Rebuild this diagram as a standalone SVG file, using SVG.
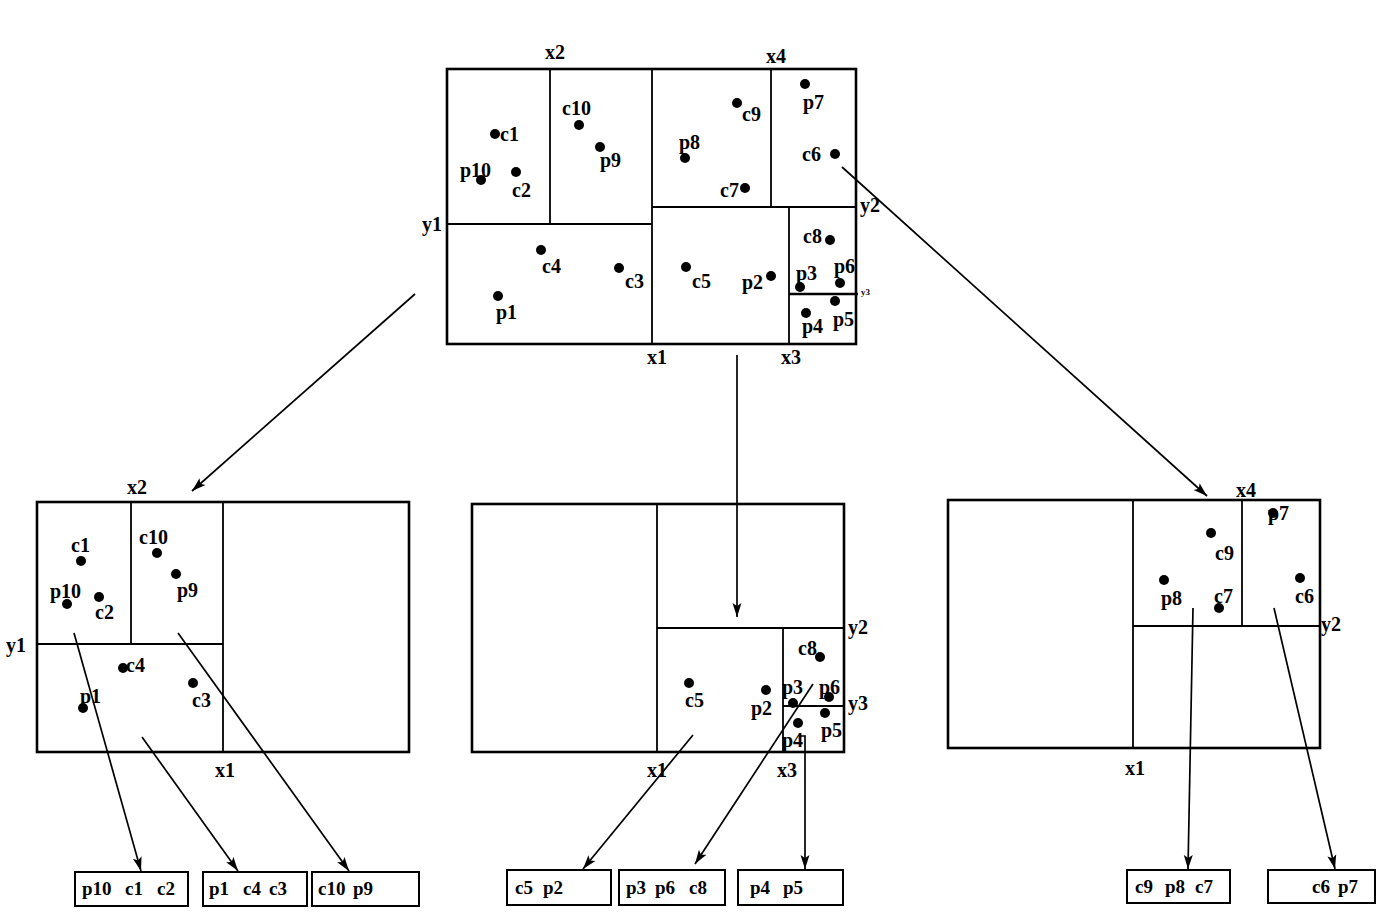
<svg xmlns="http://www.w3.org/2000/svg" width="1400" height="918" viewBox="0 0 1400 918">
<style>
  .frame{fill:none;stroke:#000;stroke-width:2.6}
  .div{fill:none;stroke:#000;stroke-width:1.8}
  .box{fill:#fff;stroke:#000;stroke-width:2}
  .conn{fill:none;stroke:#000;stroke-width:1.7}
  text{font-family:"Liberation Serif","Times New Roman",serif;font-weight:bold;font-size:20px;fill:#000}
  .bk{font-size:19px}
  .ax{text-anchor:middle}
  .tiny{font-size:9px}
  .dot{fill:#000}
</style>
<defs>
  <marker id="ah" markerUnits="userSpaceOnUse" markerWidth="16" markerHeight="12" refX="14" refY="6" orient="auto">
    <path d="M0,1.5 L14,6 L0,10.5 L3,6 Z" fill="#000"/>
  </marker>
</defs>
<rect width="1400" height="918" fill="#fff"/>

<g id="top-space">
  <rect class="frame" x="447" y="69" width="409" height="275"/>
  <line class="div" x1="550" y1="69" x2="550" y2="224"/>
  <line class="div" x1="447" y1="224" x2="652" y2="224"/>
  <line class="div" x1="652" y1="69" x2="652" y2="344"/>
  <line class="div" x1="652" y1="207" x2="856" y2="207"/>
  <line class="div" x1="771" y1="69" x2="771" y2="207"/>
  <line class="div" x1="789" y1="207" x2="789" y2="344"/>
  <line class="frame" x1="789" y1="294" x2="858" y2="294"/>
  <text class="ax" x="555" y="59">x2</text>
  <text class="ax" x="776" y="63">x4</text>
  <text class="ax" x="432" y="231">y1</text>
  <text class="ax" x="870" y="212">y2</text>
  <text class="ax" x="657" y="364">x1</text>
  <text class="ax" x="791" y="364">x3</text>
  <text class="tiny" x="861" y="295">y3</text>
  <circle class="dot" cx="495" cy="134" r="5"/><text x="500" y="141">c1</text>
  <circle class="dot" cx="481" cy="180" r="5"/><text x="460" y="177">p10</text>
  <circle class="dot" cx="516" cy="172" r="5"/><text x="512" y="197">c2</text>
  <circle class="dot" cx="579" cy="125" r="5"/><text x="562" y="115">c10</text>
  <circle class="dot" cx="600" cy="147" r="5"/><text x="600" y="167">p9</text>
  <circle class="dot" cx="685" cy="158" r="5"/><text x="679" y="149">p8</text>
  <circle class="dot" cx="737" cy="103" r="5"/><text x="742" y="121">c9</text>
  <circle class="dot" cx="745" cy="188" r="5"/><text x="720" y="197">c7</text>
  <circle class="dot" cx="805" cy="84" r="5"/><text x="803" y="109">p7</text>
  <circle class="dot" cx="835" cy="154" r="5"/><text x="802" y="161">c6</text>
  <circle class="dot" cx="541" cy="250" r="5"/><text x="542" y="273">c4</text>
  <circle class="dot" cx="619" cy="268" r="5"/><text x="625" y="288">c3</text>
  <circle class="dot" cx="498" cy="296" r="5"/><text x="496" y="319">p1</text>
  <circle class="dot" cx="686" cy="267" r="5"/><text x="692" y="288">c5</text>
  <circle class="dot" cx="771" cy="276" r="5"/><text x="742" y="289">p2</text>
  <circle class="dot" cx="830" cy="240" r="5"/><text x="803" y="243">c8</text>
  <circle class="dot" cx="800" cy="287" r="5"/><text x="796" y="280">p3</text>
  <circle class="dot" cx="840" cy="283" r="5"/><text x="834" y="273">p6</text>
  <circle class="dot" cx="806" cy="313" r="5"/><text x="802" y="333">p4</text>
  <circle class="dot" cx="835" cy="301" r="5"/><text x="833" y="326">p5</text>
</g>

<g id="left-space">
  <rect class="frame" x="37" y="502" width="372" height="250"/>
  <line class="div" x1="131" y1="502" x2="131" y2="644"/>
  <line class="div" x1="37" y1="644" x2="223" y2="644"/>
  <line class="div" x1="223" y1="502" x2="223" y2="752"/>
  <text class="ax" x="137" y="494">x2</text>
  <text class="ax" x="16" y="652">y1</text>
  <text class="ax" x="225" y="777">x1</text>
  <circle class="dot" cx="81" cy="561" r="5"/><text x="71" y="552">c1</text>
  <circle class="dot" cx="67" cy="604" r="5"/><text x="50" y="598">p10</text>
  <circle class="dot" cx="99" cy="597" r="5"/><text x="95" y="619">c2</text>
  <circle class="dot" cx="157" cy="553" r="5"/><text x="139" y="544">c10</text>
  <circle class="dot" cx="176" cy="574" r="5"/><text x="177" y="597">p9</text>
  <circle class="dot" cx="123" cy="668" r="5"/><text x="126" y="672">c4</text>
  <circle class="dot" cx="193" cy="683" r="5"/><text x="192" y="707">c3</text>
  <circle class="dot" cx="83" cy="708" r="5"/><text x="80" y="703">p1</text>
</g>

<g id="middle-space">
  <rect class="frame" x="472" y="504" width="372" height="248"/>
  <line class="div" x1="657" y1="504" x2="657" y2="752"/>
  <line class="div" x1="657" y1="628" x2="844" y2="628"/>
  <line class="div" x1="783" y1="628" x2="783" y2="752"/>
  <line class="div" x1="783" y1="706" x2="844" y2="706"/>
  <text class="ax" x="858" y="634">y2</text>
  <text class="ax" x="858" y="710">y3</text>
  <text class="ax" x="657" y="777">x1</text>
  <text class="ax" x="787" y="777">x3</text>
  <circle class="dot" cx="689" cy="683" r="5"/><text x="685" y="707">c5</text>
  <circle class="dot" cx="766" cy="690" r="5"/><text x="751" y="715">p2</text>
  <circle class="dot" cx="820" cy="657" r="5"/><text x="798" y="655">c8</text>
  <circle class="dot" cx="793" cy="703" r="5"/><text x="782" y="694">p3</text>
  <circle class="dot" cx="829" cy="697" r="5"/><text x="819" y="694">p6</text>
  <circle class="dot" cx="825" cy="713" r="5"/><text x="821" y="737">p5</text>
  <circle class="dot" cx="798" cy="723" r="5"/><text x="782" y="747">p4</text>
</g>

<g id="right-space">
  <rect class="frame" x="948" y="500" width="372" height="248"/>
  <line class="div" x1="1133" y1="500" x2="1133" y2="748"/>
  <line class="div" x1="1133" y1="626" x2="1320" y2="626"/>
  <line class="div" x1="1242" y1="500" x2="1242" y2="626"/>
  <text class="ax" x="1246" y="497">x4</text>
  <text class="ax" x="1331" y="631">y2</text>
  <text class="ax" x="1135" y="775">x1</text>
  <circle class="dot" cx="1211" cy="533" r="5"/><text x="1215" y="560">c9</text>
  <circle class="dot" cx="1164" cy="580" r="5"/><text x="1161" y="605">p8</text>
  <circle class="dot" cx="1219" cy="608" r="5"/><text x="1214" y="603">c7</text>
  <circle class="dot" cx="1273" cy="513" r="5"/><text x="1268" y="520">p7</text>
  <circle class="dot" cx="1300" cy="578" r="5"/><text x="1295" y="603">c6</text>
</g>

<g id="bucket-1"><rect class="box" x="75" y="872" width="113" height="34"/><text class="bk" y="895"><tspan x="82">p10</tspan><tspan x="125">c1</tspan><tspan x="157">c2</tspan></text></g>
<g id="bucket-2"><rect class="box" x="203" y="872" width="104" height="34"/><text class="bk" y="895"><tspan x="209">p1</tspan><tspan x="243">c4</tspan><tspan x="269">c3</tspan></text></g>
<g id="bucket-3"><rect class="box" x="312" y="872" width="107" height="34"/><text class="bk" y="895"><tspan x="318">c10</tspan><tspan x="353">p9</tspan></text></g>
<g id="bucket-4"><rect class="box" x="507" y="870" width="104" height="35"/><text class="bk" y="894"><tspan x="515">c5</tspan><tspan x="543">p2</tspan></text></g>
<g id="bucket-5"><rect class="box" x="619" y="870" width="106" height="35"/><text class="bk" y="894"><tspan x="626">p3</tspan><tspan x="655">p6</tspan><tspan x="689">c8</tspan></text></g>
<g id="bucket-6"><rect class="box" x="738" y="870" width="105" height="35"/><text class="bk" y="894"><tspan x="750">p4</tspan><tspan x="783">p5</tspan></text></g>
<g id="bucket-7"><rect class="box" x="1127" y="870" width="103" height="33"/><text class="bk" y="893"><tspan x="1135">c9</tspan><tspan x="1165">p8</tspan><tspan x="1195">c7</tspan></text></g>
<g id="bucket-8"><rect class="box" x="1268" y="870" width="107" height="33"/><text class="bk" y="893"><tspan x="1312">c6</tspan><tspan x="1338">p7</tspan></text></g>

<g id="connectors">
  <line class="conn" x1="415" y1="294" x2="192" y2="491" marker-end="url(#ah)"/>
  <line class="conn" x1="737" y1="355" x2="737" y2="617" marker-end="url(#ah)"/>
  <line class="conn" x1="842" y1="167" x2="1207" y2="496" marker-end="url(#ah)"/>
  <line class="conn" x1="74" y1="633" x2="141" y2="871" marker-end="url(#ah)"/>
  <line class="conn" x1="142" y1="737" x2="238" y2="871" marker-end="url(#ah)"/>
  <line class="conn" x1="178" y1="633" x2="349" y2="871" marker-end="url(#ah)"/>
  <line class="conn" x1="693" y1="735" x2="583" y2="869" marker-end="url(#ah)"/>
  <line class="conn" x1="813" y1="684" x2="695" y2="864" marker-end="url(#ah)"/>
  <polyline class="conn" points="800,736 805,736 805,869" marker-end="url(#ah)"/>
  <line class="conn" x1="1193" y1="608" x2="1188" y2="869" marker-end="url(#ah)"/>
  <line class="conn" x1="1274" y1="608" x2="1335" y2="869" marker-end="url(#ah)"/>
</g>
</svg>
